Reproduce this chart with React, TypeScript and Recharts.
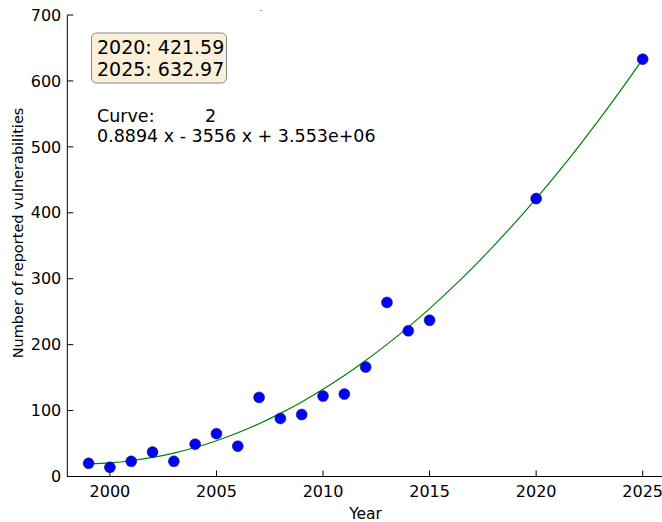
import { ComposedChart, Line, Scatter, XAxis, YAxis } from "recharts";

const pointYears = [1999, 2000, 2001, 2002, 2003, 2004, 2005, 2006, 2007, 2008, 2009, 2010, 2011, 2012, 2013, 2014, 2015, 2020, 2025];
const pointCounts = [20, 14, 23, 37, 23, 49, 65, 46, 120, 88, 94, 122, 125, 166, 264, 221, 237, 421.59, 632.97];

// fitted curve
const curveYears = [1999, 2000, 2001, 2002, 2003, 2004, 2005, 2006, 2007, 2008, 2009, 2010, 2011, 2012, 2013, 2014, 2015, 2016, 2017, 2018, 2019, 2020, 2021, 2022, 2023, 2024, 2025];
const curveValues = [19.4, 20.8, 23.9, 28.9, 35.5, 44, 54.2, 66.3, 80.1, 95.7, 113.1, 132.2, 153.1, 175.9, 200.4, 226.6, 254.6, 284.5, 316.1, 349.5, 384.7, 421.6, 460.3, 500.9, 543.1, 587.1, 633];

const xTicks = [2000, 2005, 2010, 2015, 2020, 2025];
const yTicks = [0, 100, 200, 300, 400, 500, 600, 700];

const boxLines = ["2020: 421.59", "2025: 632.97"];
const curveLabel = "Curve:";
const curveDegree = "2";
const curveEquation = "0.8894 x - 3556 x + 3.553e+06";

const points = pointYears.map((year, i) => ({ year, count: pointCounts[i] }));
const curve = curveYears.map((year, i) => ({ year, fit: curveValues[i] }));

const font = "'DejaVu Sans', sans-serif";
const tickStyle = { fontSize: 16, fill: "#000", fontFamily: font };

export default function App() {
  return (
    <div style={{ position: "absolute", left: 0, top: 0, width: 662, height: 522, overflow: "hidden", background: "#fff" }}>
      <ComposedChart width={670} height={522} data={curve} margin={{ top: 15, right: 6, left: 0, bottom: 0.5 }}>
        <XAxis
          dataKey="year"
          type="number"
          domain={[1998, 2026]}
          ticks={xTicks}
          allowDataOverflow
          height={45}
          tickSize={-6}
          tickMargin={15}
          stroke="#000"
          tick={tickStyle}
        />
        <XAxis
          xAxisId="top"
          orientation="top"
          type="number"
          domain={[1998, 2026]}
          ticks={xTicks}
          allowDataOverflow
          height={0}
          tickSize={-6}
          stroke="#000"
          tickFormatter={() => ""}
        />
        <YAxis
          type="number"
          domain={[0, 700]}
          ticks={yTicks}
          width={67.3}
          tickSize={-6}
          tickMargin={12}
          stroke="#000"
          tick={tickStyle}
        />
        <YAxis
          yAxisId="right"
          orientation="right"
          type="number"
          domain={[0, 700]}
          ticks={yTicks}
          width={0}
          tickSize={-6}
          stroke="#000"
          tickFormatter={() => ""}
        />
        <Line
          type="natural"
          dataKey="fit"
          stroke="#008000"
          strokeWidth={1.2}
          dot={false}
          activeDot={false}
          isAnimationActive={false}
        />
        <Scatter
          data={points}
          dataKey="count"
          fill="#0000ff"
          shape={(p: any) => <circle cx={p.cx} cy={p.cy} r={5.5} fill="#0000ff" stroke="#1a1a3a" strokeWidth={0.5} />}
          isAnimationActive={false}
        />
      </ComposedChart>
      <svg width={662} height={522} style={{ position: "absolute", left: 0, top: 0, pointerEvents: "none" }} fontFamily={font}>
        <rect x={91.5} y={33} width={135} height={50} rx={5} fill="#faefd9" stroke="#888" strokeWidth={1} />
        {boxLines.map((t, i) => (
          <text key={t} x={97} y={54 + i * 21.5} fontSize={19} fill="#000">
            {t}
          </text>
        ))}
        <text x={97} y={122} fontSize={17.5} fill="#000">{curveLabel}</text>
        <text x={205} y={122} fontSize={17.5} fill="#000">{curveDegree}</text>
        <text x={97} y={141.5} fontSize={17.5} fill="#000">{curveEquation}</text>
        <text x={261} y={11} fontSize={8} fill="#000" textAnchor="middle">.</text>
        <text x={365.6} y={518.5} fontSize={15.5} fill="#000" textAnchor="middle">Year</text>
        <text
          x={17.5}
          y={233}
          fontSize={14.5}
          fill="#000"
          textAnchor="middle"
          dominantBaseline="central"
          transform="rotate(-90 17.5 233)"
        >
          Number of reported vulnerabilities
        </text>
      </svg>
    </div>
  );
}
